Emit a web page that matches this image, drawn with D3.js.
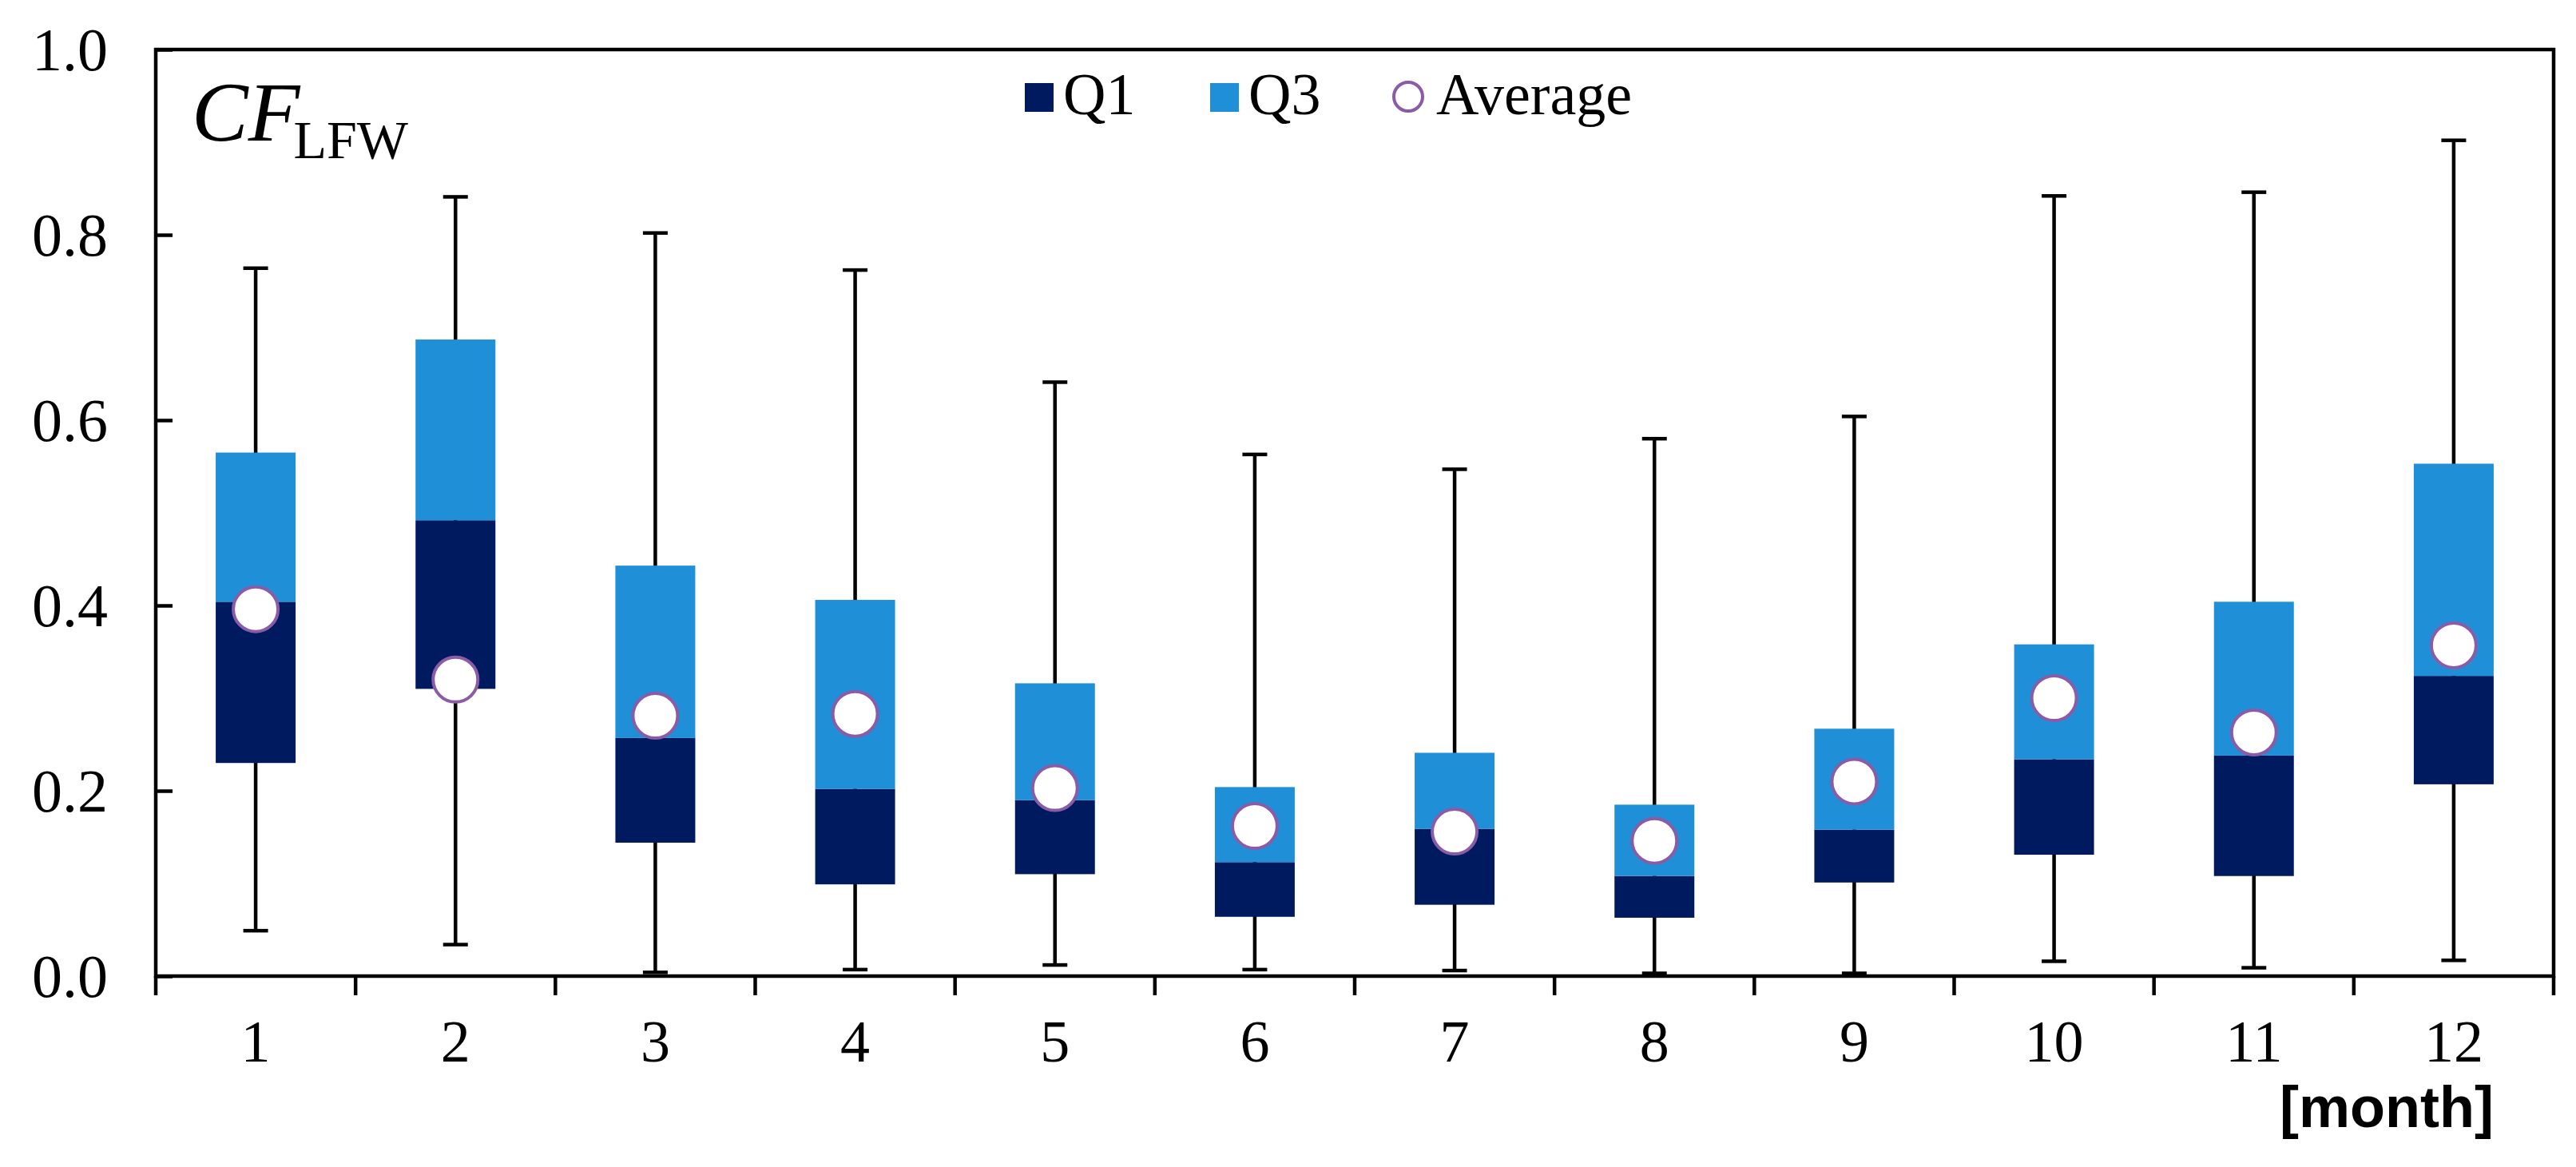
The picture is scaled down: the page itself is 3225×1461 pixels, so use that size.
<!DOCTYPE html>
<html lang="en">
<head>
  <meta charset="UTF-8">
  <title>CF LFW monthly box plot</title>
  <script src="https://d3js.org/d3.v7.min.js"></script>
  <style>
    body { margin: 0; background: #fff; }
    svg { display: block; }
  </style>
</head>
<body>
  <svg width="3225" height="1461"></svg>
  <script>
    // values
    const months   = ["1", "2", "3", "4", "5", "6", "7", "8", "9", "10", "11", "12"];
    const maxVals  = [0.764, 0.841, 0.802, 0.762, 0.641, 0.563, 0.547, 0.580, 0.604, 0.842, 0.846, 0.902];
    const q3Vals   = [0.565, 0.687, 0.443, 0.406, 0.316, 0.204, 0.241, 0.185, 0.267, 0.358, 0.404, 0.553];
    const medVals  = [0.404, 0.492, 0.257, 0.202, 0.190, 0.123, 0.159, 0.108, 0.158, 0.234, 0.238, 0.324];
    const q1Vals   = [0.230, 0.310, 0.144, 0.099, 0.110, 0.064, 0.077, 0.063, 0.101, 0.131, 0.108, 0.207];
    const minVals  = [0.049, 0.034, 0.004, 0.007, 0.012, 0.007, 0.006, 0.003, 0.003, 0.016, 0.009, 0.017];
    const avgVals  = [0.396, 0.320, 0.281, 0.283, 0.203, 0.162, 0.156, 0.146, 0.210, 0.300, 0.263, 0.357];
    const yTicks   = [0, 0.2, 0.4, 0.6, 0.8, 1.0];

    const darkBlue = "#001a60",
          lightBlue = "#1f8fd8",
          purple = "#8a5ca8";
    const serif = "'Liberation Serif', 'Times New Roman', serif";

    const data = months.map((m, i) => ({
      month: m, max: maxVals[i], q3: q3Vals[i], med: medVals[i],
      q1: q1Vals[i], min: minVals[i], avg: avgVals[i]
    }));

    const plotLeft = 195, plotRight = 3197, plotTop = 62, plotBottom = 1222;

    const svg = d3.select("svg");

    const x = d3.scaleBand().domain(months).range([plotLeft, plotRight]).padding(0);
    const y = d3.scaleLinear().domain([0, 1]).range([plotBottom, plotTop]);

    const boxW = 100, capW = 31;
    const cx = d => x(d.month) + x.bandwidth() / 2;

    // whiskers
    const whisk = svg.append("g")
      .attr("stroke", "#000")
      .attr("stroke-width", 4.5);

    whisk.selectAll(".stem")
      .data(data)
      .join("line")
        .attr("x1", cx).attr("x2", cx)
        .attr("y1", d => y(d.max)).attr("y2", d => y(d.min));

    whisk.selectAll(".capTop")
      .data(data)
      .join("line")
        .attr("x1", d => cx(d) - capW / 2).attr("x2", d => cx(d) + capW / 2)
        .attr("y1", d => y(d.max)).attr("y2", d => y(d.max));

    whisk.selectAll(".capBot")
      .data(data)
      .join("line")
        .attr("x1", d => cx(d) - capW / 2).attr("x2", d => cx(d) + capW / 2)
        .attr("y1", d => y(d.min)).attr("y2", d => y(d.min));

    // boxes: lower part (Q1 -> median) dark, upper part (median -> Q3) light
    svg.append("g").selectAll("rect")
      .data(data)
      .join("rect")
        .attr("x", d => cx(d) - boxW / 2)
        .attr("width", boxW)
        .attr("y", d => y(d.med))
        .attr("height", d => y(d.q1) - y(d.med))
        .attr("fill", darkBlue);

    svg.append("g").selectAll("rect")
      .data(data)
      .join("rect")
        .attr("x", d => cx(d) - boxW / 2)
        .attr("width", boxW)
        .attr("y", d => y(d.q3))
        .attr("height", d => y(d.med) - y(d.q3))
        .attr("fill", lightBlue);

    // averages
    svg.append("g").selectAll("circle")
      .data(data)
      .join("circle")
        .attr("cx", cx)
        .attr("cy", d => y(d.avg))
        .attr("r", 28)
        .attr("fill", "#fff")
        .attr("stroke", purple)
        .attr("stroke-width", 4);

    // y axis, ticks pointing inward
    const yAxis = svg.append("g")
      .attr("transform", `translate(${plotLeft},0)`)
      .call(d3.axisLeft(y).tickValues(yTicks).tickFormat(d3.format(".1f"))
              .tickSize(-21).tickPadding(60))
      .attr("font-family", serif)
      .attr("font-size", 76);
    yAxis.select(".domain").remove();
    yAxis.selectAll(".tick line").attr("stroke", "#000").attr("stroke-width", 4.5);
    yAxis.selectAll(".tick text").attr("fill", "#000").attr("dy", "0.34em");

    // x axis labels at band centres
    const xAxis = svg.append("g")
      .attr("transform", `translate(0,${plotBottom})`)
      .call(d3.axisBottom(x).tickSize(0).tickPadding(54))
      .attr("font-family", serif)
      .attr("font-size", 74);
    xAxis.select(".domain").remove();
    xAxis.selectAll(".tick text").attr("fill", "#000");

    // x ticks at band edges, pointing down
    const edges = months.map(m => x(m)).concat([plotRight]);
    svg.append("g").selectAll("line")
      .data(edges)
      .join("line")
        .attr("x1", d => d).attr("x2", d => d)
        .attr("y1", plotBottom).attr("y2", plotBottom + 24)
        .attr("stroke", "#000")
        .attr("stroke-width", 4.5);

    // plot frame
    svg.append("rect")
      .attr("x", plotLeft).attr("y", plotTop)
      .attr("width", plotRight - plotLeft).attr("height", plotBottom - plotTop)
      .attr("fill", "none")
      .attr("stroke", "#000")
      .attr("stroke-width", 4.5);

    // title inside the plot
    const title = svg.append("text")
      .attr("font-family", serif)
      .attr("x", 240).attr("y", 176);
    title.append("tspan")
      .attr("font-style", "italic")
      .attr("font-size", 106)
      .text("CF");
    title.append("tspan")
      .attr("font-size", 68)
      .attr("dy", 22)
      .attr("dx", -8)
      .text("LFW");

    // legend
    const legend = svg.append("g").attr("font-family", serif);
    const legendItems = [
      { label: "Q1", type: "rect", color: darkBlue, x: 1283 },
      { label: "Q3", type: "rect", color: lightBlue, x: 1515 },
      { label: "Average", type: "circle", color: purple, x: 1743 }
    ];
    legendItems.forEach(it => {
      if (it.type === "rect") {
        legend.append("rect")
          .attr("x", it.x).attr("y", 104)
          .attr("width", 36).attr("height", 36)
          .attr("fill", it.color);
      } else {
        legend.append("circle")
          .attr("cx", it.x + 20).attr("cy", 121)
          .attr("r", 18)
          .attr("fill", "#fff")
          .attr("stroke", it.color)
          .attr("stroke-width", 4);
      }
      legend.append("text")
        .attr("x", it.x + (it.type === "rect" ? 48 : 55))
        .attr("y", 143)
        .attr("font-size", 74)
        .text(it.label);
    });

    // unit label
    svg.append("text")
      .attr("font-family", "'Liberation Sans', Arial, sans-serif")
      .attr("font-weight", "bold")
      .attr("x", 3122).attr("y", 1411)
      .attr("text-anchor", "end")
      .attr("font-size", 72)
      .text("[month]");
  </script>
</body>
</html>
